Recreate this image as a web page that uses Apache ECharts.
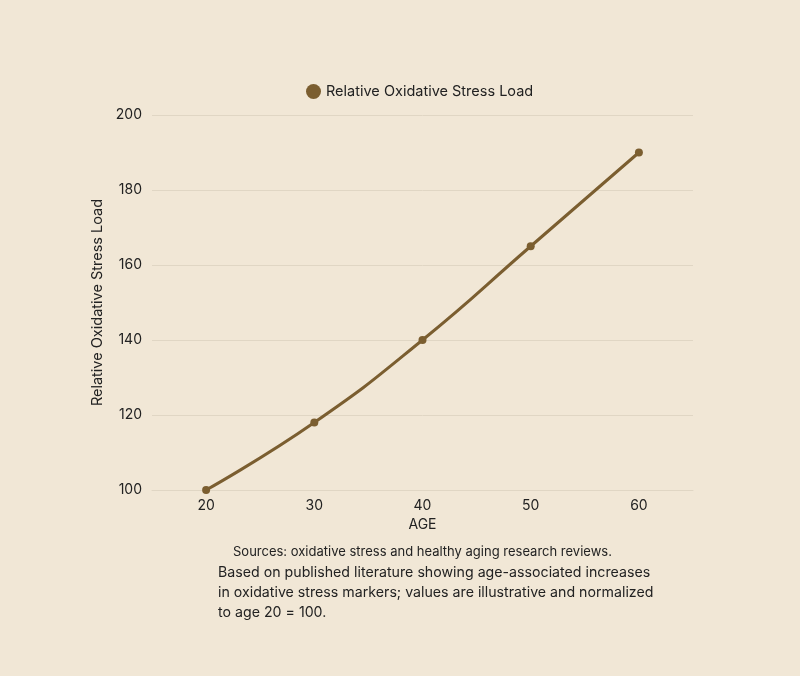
<!DOCTYPE html>
<html>
<head>
<meta charset="utf-8">
<script src="https://cdn.jsdelivr.net/npm/echarts@6/dist/echarts.min.js"></script>
<style>
	html, body { margin: 0; padding: 0; background: #f1e7d6; }
	#chart { width: 800px; height: 676px; }
</style>
</head>
<body>
<div id="chart"></div>
<script>
	// data
	var ages = ['20', '30', '40', '50', '60'];
	var stressLoad = [100, 118, 140, 165, 190];
	var seriesName = 'Relative Oxidative Stress Load';
	var sourceText = 'Sources: oxidative stress and healthy aging research reviews.';
	var noteText = 'Based on published literature showing age-associated increases\nin oxidative stress markers; values are illustrative and normalized\nto age 20 = 100.';

	var brown = '#7b5e30';
	var font = 'Inter, "Noto Sans", sans-serif';

	var chart = echarts.init(document.getElementById('chart'));
	var option = {
		backgroundColor: '#f1e7d6',
		textStyle: { fontFamily: font },
		legend: {
			top: 79,
			left: 301,
			icon: 'circle',
			itemWidth: 15,
			itemHeight: 15,
			itemGap: 10,
			textStyle: { fontSize: 14.5, color: '#222', fontFamily: font },
			data: [seriesName]
		},
		grid: { left: 152, right: 107, top: 115, bottom: 186 },
		xAxis: {
			type: 'category',
			data: ages,
			name: 'AGE',
			nameLocation: 'middle',
			nameGap: 27,
			nameTextStyle: { fontSize: 14, color: '#222' },
			axisLine: { lineStyle: { color: '#e0d6c4' } },
			axisTick: { show: false },
			axisLabel: { fontSize: 14, color: '#222', margin: 9 }
		},
		yAxis: {
			type: 'value',
			min: 100,
			max: 200,
			interval: 20,
			name: seriesName,
			nameLocation: 'middle',
			nameGap: 42,
			nameTextStyle: { fontSize: 14.5, color: '#222' },
			axisLine: { show: false },
			axisTick: { show: false },
			axisLabel: { fontSize: 14, color: '#222', margin: 10 },
			splitLine: { lineStyle: { color: '#e0d6c4', width: 1 } }
		},
		series: [{
			name: seriesName,
			type: 'line',
			data: stressLoad,
			smooth: true,
			symbol: 'circle',
			symbolSize: 8,
			color: brown,
			lineStyle: { width: 3, color: brown },
			itemStyle: { color: brown }
		}],
		graphic: [{
			type: 'text',
			left: 233,
			top: 546,
			style: { text: sourceText, fontSize: 13, fill: '#222', fontFamily: font }
		}, {
			type: 'text',
			left: 218,
			top: 563,
			style: { text: noteText, fontSize: 14.2, lineHeight: 20, fill: '#222', fontFamily: font }
		}]
	};
	chart.setOption(option);
	window.addEventListener('resize', function() {
		chart.resize();
	});
</script>
</body>
</html>
